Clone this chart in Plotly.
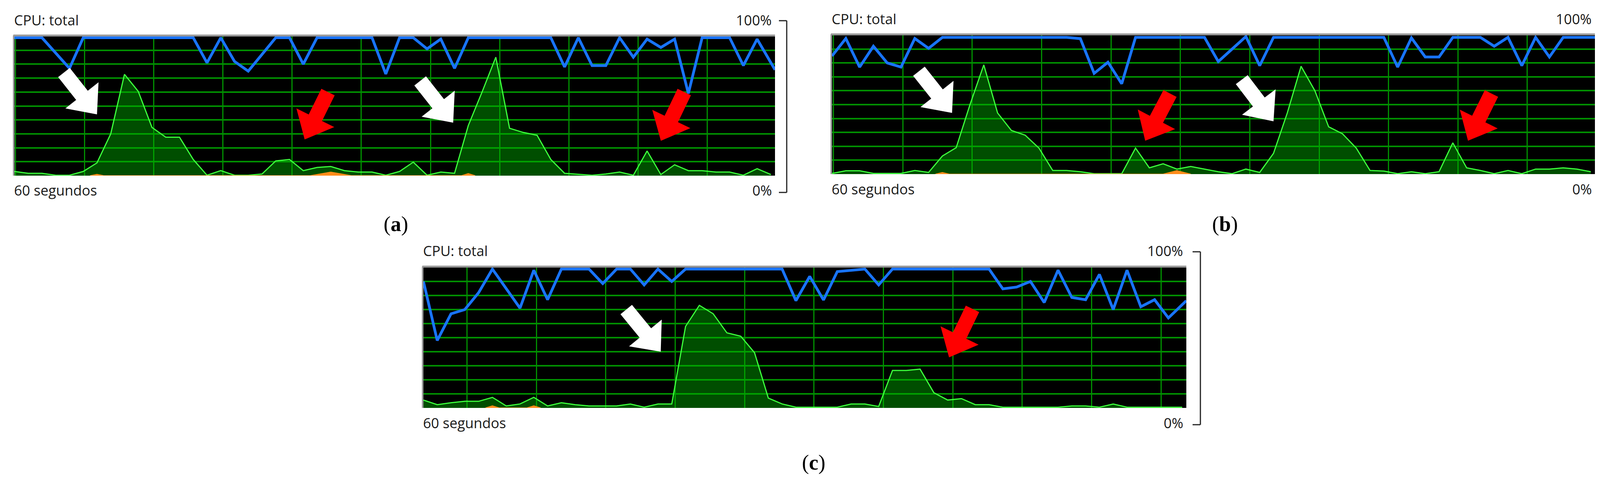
import plotly.graph_objects as go

W, H = 4124, 1222

# ---------------- data (sample index, % CPU) ----------------
a_blue_x = [0, 2, 4, 5, 13, 14, 15, 16, 17, 19, 20, 21, 22, 26, 27, 28, 29, 30, 31, 32, 33, 39, 40, 41, 42, 43, 44, 45, 46, 47, 48, 49, 50, 52, 53, 54, 55.3]
a_blue_y = [99, 99, 77, 99, 99, 81, 99, 82, 75, 99, 99, 80, 99, 99, 73, 99, 99, 91, 98, 77, 99, 99, 78, 99, 79, 79, 99, 85, 98, 92, 98, 59, 99, 99, 79, 98, 76]
a_green_x = list(range(0, 56))
a_green_y = [3, 1.7, 1.7, 0.3, 0.3, 3, 9.2, 30, 72.7, 60.5, 34.6, 27.6, 27.6, 11.6, 0.3, 3.6, 0.3, 0.3, 1.2, 10.6,
             11.6, 3.6, 5.9, 6.6, 3.6, 2.6, 2.6, 0.3, 3, 9.7, 0.3, 2.6, 1.7, 36, 60, 85, 34, 31, 29, 11.6,
             1.7, 1.0, 0.3, 1.2, 2.6, 0.3, 17.7, 0.8, 7.8, 3.6, 3.6, 2.6, 2.6, 0.3, 5, 0.8]
a_orange_x = [21.5, 23, 24.5, 5.5, 6, 6.5, 32.5, 33, 33.5]
a_orange_y = [0, 2.6, 0, 0, 1, 0, 0, 1.5, 0]

b_blue_x = [0, 1, 2, 3, 4, 5, 6, 7, 8, 17, 18, 19, 20, 21, 22, 27, 28, 29, 30, 31, 32, 40, 41, 42, 43, 44, 45, 47, 48, 49, 50, 51, 52, 53, 55.3]
b_blue_y = [85, 97.6, 77, 92, 80, 77, 97.6, 90.5, 98.4, 98.4, 97.5, 72.5, 80.5, 65, 98.4, 98.4, 81, 90, 99, 78, 98.4, 98.4, 77, 98, 84.3, 84.3, 98.4, 98.4, 92, 98.4, 78, 98.4, 84.3, 98.4, 98.4]
b_green_x = list(range(0, 56))
b_green_y = [0.5, 2.4, 2.4, 0.5, 0.5, 0.5, 2.6, 1.2, 13, 19, 50, 78.6, 44, 31.4, 28, 18.7, 2.6, 2.6, 1.7, 0.3,
             0.3, 0.3, 18.7, 4.5, 7.4, 3.6, 5.5, 3.6, 1.7, 0.3, 3.6, 1.2, 14.9, 44, 77.6, 60, 34, 29, 18.7, 2.6,
             2.2, 0.3, 1.7, 0.3, 1.7, 22.5, 4.5, 2.6, 0.3, 2.6, 0.3, 3.6, 3.6, 4.5, 3.6, 1.7]
b_orange_x = [24, 25, 26, 7.5, 8, 8.5]
b_orange_y = [0, 2.5, 0, 0, 1.2, 0]

c_blue_x = [0, 1, 2, 3, 4, 5, 7, 8, 9, 10, 12, 13, 14, 15, 16, 17, 18, 19, 26, 27, 28, 29, 30, 31, 32, 33, 34, 41, 42, 43, 44, 45, 46, 47, 48, 49, 50, 51, 52, 53, 54, 55.3]
c_blue_y = [90, 48, 67, 70, 82, 98.8, 71, 98, 77, 98.8, 98.8, 88.5, 98.8, 98.8, 87.5, 98.8, 90, 98.8, 98.8, 76.3, 93.6, 76.8, 97, 98, 98.8, 87.5, 98.8, 98.8, 84.7, 86, 90, 75, 98, 78.6, 77, 95, 70, 98, 72, 77, 64, 76.3]
c_green_x = list(range(0, 56))
c_green_y = [5.6, 2.3, 3.7, 4.7, 4.7, 7.5, 1.4, 2.8, 7.5, 1.4, 3.7, 2.3, 1.4, 1.4, 1.4, 2.8, 0.5, 2.8, 2.8, 58,
             73, 67, 53.4, 51, 39.3, 7, 2.8, 0.5, 0.5, 0.5, 0.5, 2.8, 2.8, 1, 26.7, 26.7, 27.6, 10.8, 5.6, 6.6,
             2.3, 2.3, 0.5, 0.5, 0.5, 0.5, 0.5, 1.4, 1.4, 0.5, 2.8, 0.5, 0.5, 0.5, 0.5, 0.5]
c_orange_x = [4.5, 5, 5.5, 7.5, 8, 8.5]
c_orange_y = [0, 1.5, 0, 0, 1.5, 0]

# arrows: (tail_k, tail_pct, tip_k, tip_pct, colour)
a_arrows = [(3.6, 74, 6.0, 44, "white"), (22.8, 60, 21.1, 26, "red"),
            (29.5, 68, 31.9, 38, "white"), (48.7, 60, 47.0, 25, "red")]
b_arrows = [(6.3, 74, 8.7, 44, "white"), (24.5, 58, 22.7, 24, "red"),
            (29.7, 68, 32.0, 38, "white"), (47.8, 58, 46.1, 24, "red")]
c_arrows = [(14.7, 70, 17.2, 40, "white"), (39.8, 70.5, 38.1, 36, "red")]

panels = {
    "a": dict(box=(29, 1976, 85, 442), grid0=0.07, blue=(a_blue_x, a_blue_y), green=(a_green_x, a_green_y),
              orange=(a_orange_x, a_orange_y), arrows=a_arrows, label="(a)", label_xy=(1005, 566), brk=2006),
    "b": dict(box=(2122, 4075, 82, 438), grid0=0.1, blue=(b_blue_x, b_blue_y), green=(b_green_x, b_green_y),
              orange=(b_orange_x, b_orange_y), arrows=b_arrows, label="(b)", label_xy=(3128, 566), brk=4108),
    "c": dict(box=(1076, 3029, 677, 1037), grid0=3.16, blue=(c_blue_x, c_blue_y), green=(c_green_x, c_green_y),
              orange=(c_orange_x, c_orange_y), arrows=c_arrows, label="(c)", label_xy=(2075, 1177), brk=3065),
}
XMAX = 55.3

fig = go.Figure()
shapes, annotations = [], []
font = "Open Sans"

def px(x):
    return x / W
def py(y):
    return 1 - y / H

for i, (key, p) in enumerate(panels.items(), start=1):
    L, R, T, B = p["box"]
    xa = "x" if i == 1 else f"x{i}"
    ya = "y" if i == 1 else f"y{i}"
    fig.add_trace(go.Scatter(x=p["green"][0], y=p["green"][1], mode="lines", fill="tozeroy",
                             fillcolor="rgba(0,185,0,0.42)", line=dict(color="#3cff3c", width=3),
                             xaxis=xa, yaxis=ya, hoverinfo="skip"))
    fig.add_trace(go.Scatter(x=p["orange"][0], y=p["orange"][1], mode="lines", fill="tozeroy",
                             fillcolor="#ff8c1a", line=dict(color="#ff8c1a", width=2),
                             xaxis=xa, yaxis=ya, hoverinfo="skip"))
    fig.add_trace(go.Scatter(x=p["blue"][0], y=p["blue"][1], mode="lines",
                             line=dict(color="#1874ff", width=7), xaxis=xa, yaxis=ya, hoverinfo="skip"))
    axx = dict(domain=[px(L), px(R)], range=[0, XMAX], showgrid=True, gridcolor="#009000", gridwidth=2.5,
               tick0=p["grid0"], dtick=5.03, showticklabels=False, zeroline=False, ticks="", anchor=ya, fixedrange=True)
    axy = dict(domain=[py(B), py(T)], range=[0, 100], showgrid=True, gridcolor="#009000", gridwidth=3.5,
               dtick=10, showticklabels=False, zeroline=False, ticks="", anchor=xa, fixedrange=True)
    fig.update_layout(**{("xaxis" if i == 1 else f"xaxis{i}"): axx, ("yaxis" if i == 1 else f"yaxis{i}"): axy})

    shapes.append(dict(type="line", xref="paper", yref="paper", x0=px(L - 3), x1=px(R), y0=py(T - 2), y1=py(T - 2),
                       line=dict(color="#9a9a9a", width=5)))
    shapes.append(dict(type="line", xref="paper", yref="paper", x0=px(L - 2), x1=px(L - 2), y0=py(B), y1=py(T - 2),
                       line=dict(color="#9a9a9a", width=4)))

    sx = (R - L) / XMAX
    sy = (B - T) / 100
    for (tk, tp, hk, hp, col) in p["arrows"]:
        x0, y0 = L + tk * sx, B - tp * sy
        x1, y1 = L + hk * sx, B - hp * sy
        dx, dy = x1 - x0, y1 - y0
        ln = (dx * dx + dy * dy) ** 0.5
        ux, uy = dx / ln, dy / ln
        nx, ny = -uy, ux
        hl, hw, sw = 62, 54, 19
        bx, by = x1 - ux * hl, y1 - uy * hl
        pts = [(x0 + nx * sw, y0 + ny * sw), (bx + nx * sw, by + ny * sw), (bx + nx * hw, by + ny * hw),
               (x1, y1), (bx - nx * hw, by - ny * hw), (bx - nx * sw, by - ny * sw), (x0 - nx * sw, y0 - ny * sw)]
        path = "M " + " L ".join(f"{px(a):.5f},{py(b):.5f}" for a, b in pts) + " Z"
        shapes.append(dict(type="path", xref="paper", yref="paper", path=path,
                           fillcolor="#ffffff" if col == "white" else "#ff0000", line=dict(width=0), layer="above"))

    ty_top = T - 42
    ty_bot = B + 38
    for txt, x, y, anc in [("CPU: total", L - 3, ty_top, "left"), ("60 segundos", L - 3, ty_bot, "left"),
                           ("100%", R - 6, ty_top, "right"), ("0%", R - 6, ty_bot, "right")]:
        annotations.append(dict(text=txt, x=px(x), y=py(y), xref="paper", yref="paper", xanchor=anc,
                                yanchor="middle", showarrow=False, font=dict(family=font, size=36, color="#1a1a1a")))
    bx_ = p["brk"]
    bt, bb = T - 40, B + 43
    for (xa0, ya0, xa1, ya1) in [(bx_, bt, bx_, bb), (bx_ - 20, bt, bx_, bt), (bx_ - 20, bb, bx_, bb)]:
        shapes.append(dict(type="line", xref="paper", yref="paper", x0=px(xa0), y0=py(ya0), x1=px(xa1), y1=py(ya1),
                           line=dict(color="#222222", width=3)))
    lx, ly = p["label_xy"]
    annotations.append(dict(text="(<b>" + p["label"][1] + "</b>)", x=px(lx), y=py(ly), xref="paper", yref="paper",
                            xanchor="center", yanchor="middle", showarrow=False,
                            font=dict(family="Liberation Serif", size=54, color="#000000")))

fig.update_layout(width=W, height=H, margin=dict(l=0, r=0, t=0, b=0), paper_bgcolor="white",
                  plot_bgcolor="black", showlegend=False, shapes=shapes, annotations=annotations)
fig.write_html("out.html")
